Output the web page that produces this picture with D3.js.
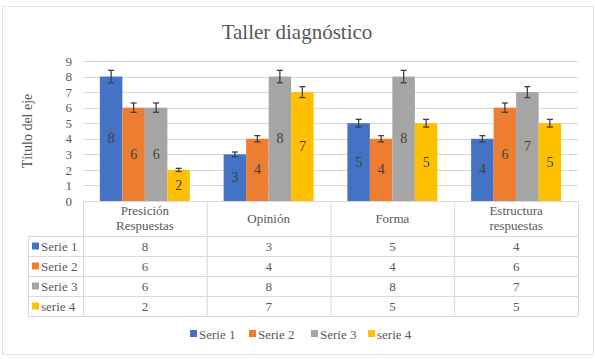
<!DOCTYPE html>
<html><head><meta charset="utf-8">
<script src="https://cdn.jsdelivr.net/npm/d3@7"></script>
<style>body{margin:0;background:#fff}svg{display:block}</style>
</head><body><svg id="c" width="595" height="359"></svg>
<script>
const categories = ["Presición\nRespuestas", "Opinión", "Forma", "Estructura\nrespuestas"];
const seriesNames = ["Serie 1", "Serie 2", "Serie 3", "serie 4"];
const serie1 = [8, 3, 5, 4];
const serie2 = [6, 4, 4, 6];
const serie3 = [6, 8, 8, 7];
const serie4 = [2, 7, 5, 5];
const colors = ["#4472C4", "#ED7D31", "#A5A5A5", "#FFC000"];
const yTicks = [0,1,2,3,4,5,6,7,8,9];
const errorPct = 0.05;
const title = "Taller diagnóstico";
const yTitle = "Título del eje";

const values = [serie1, serie2, serie3, serie4];
const svg = d3.select("#c");
const grid = "#d9d9d9";

svg.append("rect").attr("x",2.5).attr("y",6.5).attr("width",591).attr("height",348)
  .attr("fill","#fff").attr("stroke","#e3e3e3");

const x0 = d3.scaleBand().domain(d3.range(categories.length)).range([83,578]).padding(0);
const x1 = d3.scaleBand().domain(d3.range(seriesNames.length)).range([0,x0.bandwidth()]).paddingInner(0).paddingOuter(0.75);
const y = d3.scaleLinear().domain([0,9]).range([201,61]);

svg.append("text").attr("x",297).attr("y",39).attr("text-anchor","middle")
  .attr("font-size",21).text(title);

// grid
svg.append("g").selectAll("line").data(yTicks).join("line")
  .attr("x1",83).attr("x2",578).attr("y1",d=>Math.round(y(d))+0.5).attr("y2",d=>Math.round(y(d))+0.5)
  .attr("stroke",grid);

// y labels
const ya = d3.axisLeft(y).tickValues(yTicks).tickSize(0).tickPadding(0);
const gy = svg.append("g").attr("transform","translate(72,0)").call(ya);
gy.select(".domain").remove();
gy.selectAll("text").attr("font-size",13);

svg.append("text").attr("transform","translate(32,131) rotate(-90)").attr("text-anchor","middle")
  .attr("font-size",14).text(yTitle);

// bars
const bars = [];
values.forEach((arr,s)=>arr.forEach((v,c)=>bars.push({s,c,v})));
const gb = svg.append("g");
gb.selectAll("rect").data(bars).join("rect")
  .attr("x",d=>x0(d.c)+x1(d.s)).attr("width",x1.bandwidth())
  .attr("y",d=>y(d.v)).attr("height",d=>y(0)-y(d.v)).attr("fill",d=>colors[d.s]);

// error bars
const ge = svg.append("g").attr("stroke","#404040").attr("stroke-width",1.3);
bars.forEach(d=>{
  const cx = x0(d.c)+x1(d.s)+x1.bandwidth()/2;
  const hi = y(d.v*(1+errorPct)), lo = y(d.v*(1-errorPct));
  ge.append("line").attr("x1",cx).attr("x2",cx).attr("y1",hi).attr("y2",lo);
  ge.append("line").attr("x1",cx-3).attr("x2",cx+3).attr("y1",hi).attr("y2",hi);
  ge.append("line").attr("x1",cx-3).attr("x2",cx+3).attr("y1",lo).attr("y2",lo);
});

// data labels
gb.selectAll("text").data(bars).join("text")
  .attr("x",d=>x0(d.c)+x1(d.s)+x1.bandwidth()/2)
  .attr("y",d=>(y(d.v)+y(0))/2+4.5).attr("text-anchor","middle")
  .attr("font-size",14).attr("class","dl").text(d=>d.v);

// table
const rowH = 20, headTop = 201, headBot = 236;
const tl = 28, tr = 578;
const gt = svg.append("g");
const hl = (x1_,x2_,yy)=>gt.append("line").attr("x1",x1_).attr("x2",x2_).attr("y1",yy+0.5).attr("y2",yy+0.5).attr("stroke",grid);
const vl = (xx,y1_,y2_)=>gt.append("line").attr("x1",xx+0.5).attr("x2",xx+0.5).attr("y1",y1_).attr("y2",y2_).attr("stroke",grid);
hl(83,tr,headTop);
for(let r=0;r<=4;r++) hl(tl,tr,headBot+r*rowH);
vl(tl,headBot,headBot+4*rowH);
categories.forEach((c,i)=>vl(x0(i),headTop,headBot+4*rowH));
vl(tr,headTop,headBot+4*rowH);

categories.forEach((c,i)=>{
  const lines = c.split("\n");
  const cx = x0(i)+x0.bandwidth()/2;
  const t = gt.append("text").attr("text-anchor","middle").attr("font-size",13);
  if(lines.length===1){
    t.attr("x",cx).attr("y",223).text(lines[0]);
  } else {
    lines.forEach((l,k)=>t.append("tspan").attr("x",cx).attr("y",215+k*15).text(l));
  }
});
seriesNames.forEach((n,s)=>{
  const cy = headBot+s*rowH+rowH/2;
  gt.append("rect").attr("x",32).attr("y",cy-3.5).attr("width",7).attr("height",7).attr("fill",colors[s]);
  gt.append("text").attr("x",41).attr("y",cy+4.5).attr("font-size",13).text(n);
  values[s].forEach((v,c)=>{
    gt.append("text").attr("x",x0(c)+x0.bandwidth()/2).attr("y",cy+4.5)
      .attr("text-anchor","middle").attr("font-size",13).text(v);
  });
});

// legend
const legX = [190, 249, 311, 368];
const gl = svg.append("g");
seriesNames.forEach((n,s)=>{
  gl.append("rect").attr("x",legX[s]).attr("y",330).attr("width",7).attr("height",7).attr("fill",colors[s]);
  gl.append("text").attr("x",legX[s]+9).attr("y",338.5).attr("font-size",13).text(n);
});

svg.selectAll("text").style("font-family","'Liberation Serif', serif").attr("fill","#595959");
svg.selectAll("text.dl").attr("fill","#404040");
</script></body></html>
